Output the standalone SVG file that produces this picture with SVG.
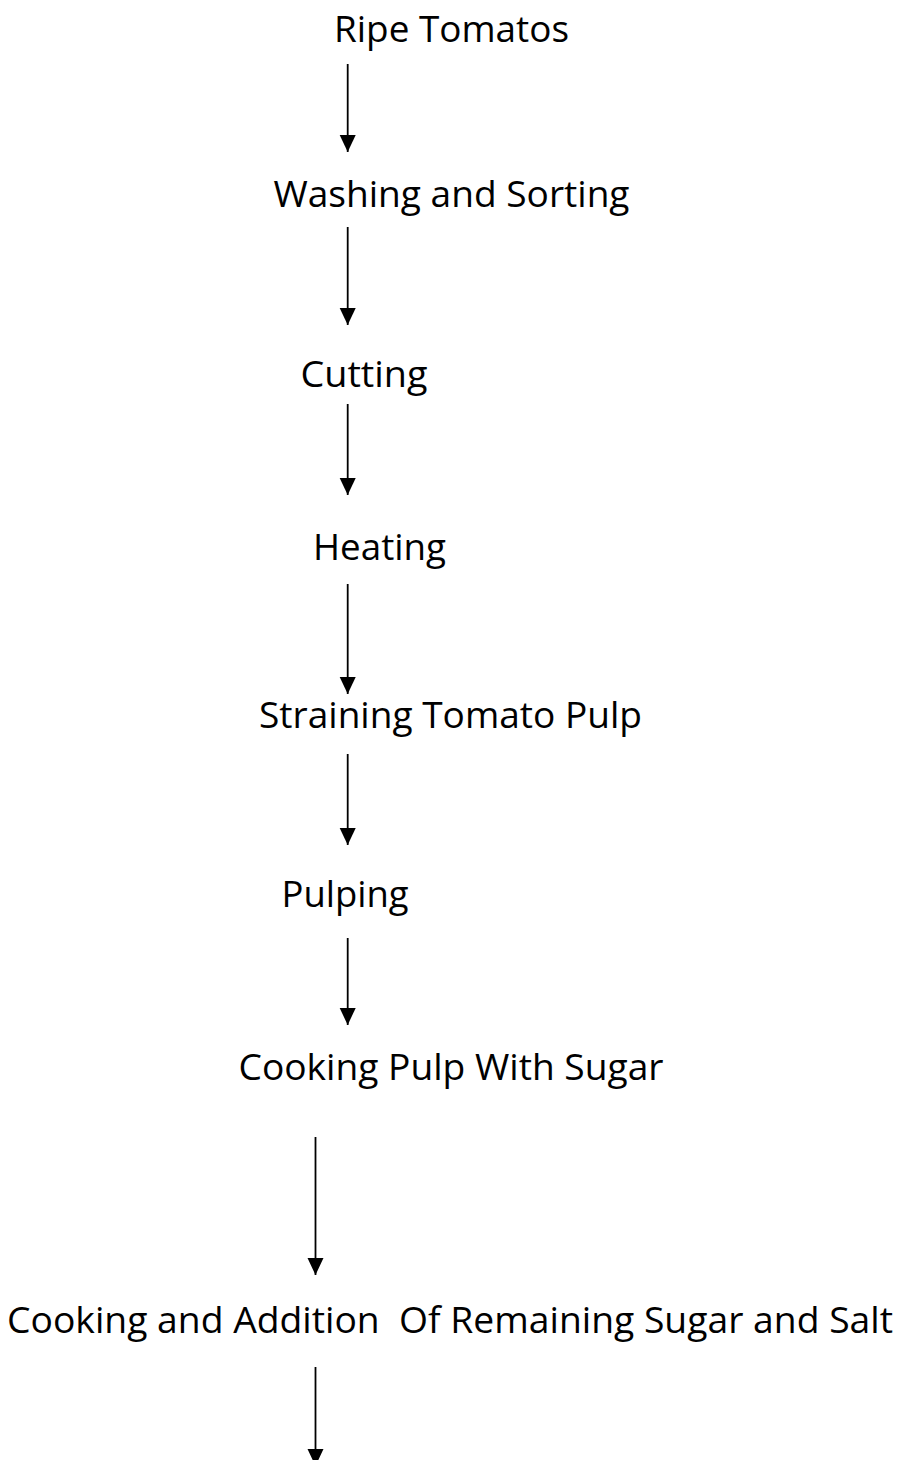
<svg xmlns="http://www.w3.org/2000/svg" width="899" height="1460" viewBox="0 0 899 1460">
<style>
.t{font-family:"Open Sans","Noto Sans","Liberation Sans",sans-serif;font-size:36px;fill:#000;white-space:pre}
.c{stroke:#000;stroke-width:1.8;fill:none}
</style>
<defs>
<marker id="ah" markerUnits="userSpaceOnUse" markerWidth="17" markerHeight="17" refX="17" refY="8" orient="auto" viewBox="0 0 17 16">
<path d="M0,0 L17,8 L0,16 Z" fill="#000"/>
</marker>
</defs>
<rect width="899" height="1460" fill="#fff"/>
<g id="connectors">
<line class="c" x1="347.7" y1="64" x2="347.7" y2="152" marker-end="url(#ah)"/>
<line class="c" x1="347.7" y1="227" x2="347.7" y2="325" marker-end="url(#ah)"/>
<line class="c" x1="347.7" y1="404" x2="347.7" y2="495" marker-end="url(#ah)"/>
<line class="c" x1="347.7" y1="584" x2="347.7" y2="694" marker-end="url(#ah)"/>
<line class="c" x1="347.7" y1="754" x2="347.7" y2="845" marker-end="url(#ah)"/>
<line class="c" x1="347.7" y1="938" x2="347.7" y2="1025" marker-end="url(#ah)"/>
<line class="c" x1="315.5" y1="1137" x2="315.5" y2="1275" marker-end="url(#ah)"/>
<line class="c" x1="315.5" y1="1367" x2="315.5" y2="1466" marker-end="url(#ah)"/>
</g>
<g id="n1"><text class="t" x="334" y="41.5" textLength="235" lengthAdjust="spacingAndGlyphs">Ripe Tomatos</text></g>
<g id="n2"><text class="t" x="273.5" y="207" textLength="356" lengthAdjust="spacingAndGlyphs">Washing and Sorting</text></g>
<g id="n3"><text class="t" x="300.5" y="386.5" textLength="127" lengthAdjust="spacingAndGlyphs">Cutting</text></g>
<g id="n4"><text class="t" x="313" y="560" textLength="133" lengthAdjust="spacingAndGlyphs">Heating</text></g>
<g id="n5"><text class="t" x="259" y="728" textLength="383" lengthAdjust="spacingAndGlyphs">Straining Tomato Pulp</text></g>
<g id="n6"><text class="t" x="281.5" y="906.5" textLength="127" lengthAdjust="spacingAndGlyphs">Pulping</text></g>
<g id="n7"><text class="t" x="238.5" y="1080" textLength="425" lengthAdjust="spacingAndGlyphs">Cooking Pulp With Sugar</text></g>
<g id="n8"><text class="t" x="7" y="1333" textLength="886" lengthAdjust="spacingAndGlyphs">Cooking and Addition  Of Remaining Sugar and Salt</text></g>
</svg>
